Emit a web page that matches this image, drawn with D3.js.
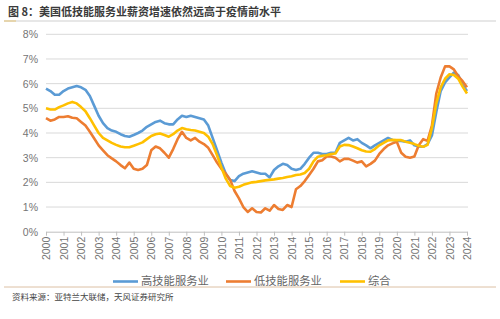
<!DOCTYPE html>
<meta charset="utf-8">
<style>
  body { margin: 0; background: #fff; }
  text { font-family: 'Noto Sans CJK SC', 'Noto Sans', sans-serif; }
</style>
<body>
<script src="https://cdn.jsdelivr.net/npm/d3@7"></script>
<script>
  var width = 500, height = 319;

  // quarterly readings, 2000Q1 .. 2024Q1
  var startYear = 2000, step = 0.25;
  var seriesNames = ["高技能服务业", "低技能服务业", "综合"];
  var colors = ["#5B9BD5", "#ED7D31", "#FFC000"];

  var highSkill = [5.80, 5.70, 5.55, 5.55, 5.70, 5.80, 5.85, 5.90, 5.85, 5.75, 5.50, 5.10,
    4.70, 4.40, 4.20, 4.10, 4.05, 3.95, 3.88, 3.85, 3.92, 4.00, 4.10, 4.25,
    4.35, 4.45, 4.50, 4.40, 4.35, 4.35, 4.55, 4.70, 4.65, 4.70, 4.65, 4.60,
    4.55, 4.30, 3.80, 3.30, 2.80, 2.35, 2.10, 2.05, 2.25, 2.35, 2.40, 2.45,
    2.40, 2.35, 2.35, 2.20, 2.50, 2.65, 2.75, 2.70, 2.55, 2.50, 2.55, 2.75,
    3.00, 3.20, 3.20, 3.15, 3.15, 3.20, 3.20, 3.60, 3.70, 3.80, 3.70, 3.75,
    3.60, 3.50, 3.38, 3.50, 3.60, 3.70, 3.80, 3.72, 3.68, 3.68, 3.65, 3.70,
    3.50, 3.45, 3.44, 3.55, 3.90, 4.85, 5.70, 6.05, 6.25, 6.45, 6.35, 5.95, 5.70];

  var lowSkill = [4.60, 4.50, 4.55, 4.65, 4.65, 4.68, 4.62, 4.60, 4.45, 4.30, 4.05, 3.78,
    3.50, 3.30, 3.10, 2.97, 2.85, 2.70, 2.57, 2.80, 2.55, 2.50, 2.55, 2.70,
    3.30, 3.45, 3.38, 3.20, 3.00, 3.35, 3.75, 4.05, 3.80, 3.70, 3.80, 3.65,
    3.55, 3.40, 3.10, 2.80, 2.55, 2.35, 2.10, 1.65, 1.35, 1.00, 0.80, 0.95,
    0.80, 0.78, 0.95, 0.85, 1.08, 0.92, 0.88, 1.08, 1.00, 1.72, 1.85, 2.05,
    2.30, 2.55, 2.85, 2.90, 3.05, 3.05, 3.00, 2.85, 2.95, 2.95, 2.88, 2.80,
    2.85, 2.65, 2.75, 2.88, 3.15, 3.35, 3.50, 3.58, 3.64, 3.20, 3.04, 3.00,
    3.05, 3.50, 3.75, 3.68, 4.30, 5.60, 6.25, 6.70, 6.70, 6.58, 6.30, 6.10, 5.85];

  var overall = [5.00, 4.95, 4.95, 5.05, 5.12, 5.20, 5.26, 5.20, 5.05, 4.88, 4.60, 4.30,
    4.00, 3.80, 3.70, 3.60, 3.52, 3.45, 3.42, 3.42, 3.48, 3.55, 3.62, 3.75,
    3.88, 3.95, 3.98, 3.92, 3.85, 3.95, 4.10, 4.20, 4.15, 4.12, 4.10, 4.05,
    4.00, 3.85, 3.55, 3.10, 2.60, 2.15, 1.85, 1.78, 1.82, 1.90, 1.95, 2.00,
    2.02, 2.05, 2.08, 2.10, 2.12, 2.15, 2.18, 2.22, 2.25, 2.30, 2.32, 2.38,
    2.55, 2.85, 3.04, 3.08, 3.10, 3.15, 3.17, 3.45, 3.52, 3.51, 3.45, 3.38,
    3.30, 3.25, 3.24, 3.35, 3.50, 3.60, 3.70, 3.72, 3.71, 3.71, 3.65, 3.60,
    3.55, 3.48, 3.44, 3.52, 4.20, 5.20, 5.85, 6.20, 6.38, 6.35, 6.20, 5.88, 5.60];

  var yTicks = [0, 1, 2, 3, 4, 5, 6, 7, 8];
  var xTicks = d3.range(2000, 2025);

  var svg = d3.select("body").append("svg")
    .attr("width", width)
    .attr("height", height);

  // title + rules
  svg.append("text")
    .attr("x", 8).attr("y", 16)
    .attr("font-size", 11).attr("font-weight", "bold").attr("fill", "#3a3a3a")
    .text("图 8：美国低技能服务业薪资增速依然远高于疫情前水平");
  svg.append("line").attr("x1", 4).attr("x2", 496).attr("y1", 21).attr("y2", 21)
    .attr("stroke", "#cfcfcf").attr("stroke-width", 1);
  svg.append("line").attr("x1", 4).attr("x2", 16).attr("y1", 21).attr("y2", 21)
    .attr("stroke", "#e6cf9a").attr("stroke-width", 1.5);
  svg.append("line").attr("x1", 4).attr("x2", 496).attr("y1", 287).attr("y2", 287)
    .attr("stroke", "#dcc0a4").attr("stroke-width", 1);
  svg.append("text")
    .attr("x", 12).attr("y", 300)
    .attr("font-size", 8.5).attr("fill", "#444")
    .text("资料来源：亚特兰大联储，天风证券研究所");

  var x = d3.scaleLinear().domain([2000, 2024]).range([46, 467]);
  var y = d3.scaleLinear().domain([0, 8]).range([231.7, 34.3]);

  // grid
  svg.append("g")
    .selectAll("line")
    .data(yTicks.slice(1))
    .enter().append("line")
    .attr("x1", 46).attr("x2", 468)
    .attr("y1", function(d) { return y(d) })
    .attr("y2", function(d) { return y(d) })
    .attr("stroke", "#d9d9d9").attr("stroke-width", 1);

  var yAxis = svg.append("g")
    .attr("transform", "translate(46,0)")
    .call(d3.axisLeft(y).tickValues(yTicks).tickSize(0).tickPadding(8)
      .tickFormat(function(d) { return d + "%" }));
  yAxis.select(".domain").remove();
  yAxis.selectAll("text").attr("font-size", 10.5).attr("fill", "#757575")
    .style("font-family", "'Liberation Sans', sans-serif");

  var xAxis = svg.append("g")
    .attr("transform", "translate(0," + y(0) + ")")
    .call(d3.axisBottom(x).tickValues(xTicks).tickSize(4).tickSizeOuter(0)
      .tickFormat(function(d) { return d }));
  xAxis.select(".domain").attr("stroke", "#bfbfbf");
  xAxis.selectAll(".tick line").attr("stroke", "#bfbfbf");
  xAxis.selectAll("text")
    .attr("font-size", 10.5).attr("fill", "#757575")
    .style("font-family", "'Liberation Sans', sans-serif")
    .attr("transform", "rotate(-90)")
    .attr("text-anchor", "end")
    .attr("x", -5).attr("y", 0).attr("dy", "0.35em");

  var line = d3.line()
    .x(function(d, i) { return x(startYear + i * step) })
    .y(function(d) { return y(d) });

  var data = [highSkill, lowSkill, overall];
  // draw order: blue, orange, yellow on top
  svg.append("g").selectAll("path")
    .data(data)
    .enter().append("path")
    .attr("d", line)
    .attr("fill", "none")
    .attr("stroke", function(d, i) { return colors[i] })
    .attr("stroke-width", 2.6)
    .attr("stroke-linejoin", "round");

  // legend
  var legX = [113, 226, 340];
  var leg = svg.append("g").selectAll("g")
    .data(seriesNames)
    .enter().append("g")
    .attr("transform", function(d, i) { return "translate(" + legX[i] + ",281.5)" });
  leg.append("line").attr("x1", 0).attr("x2", 25)
    .attr("stroke", function(d, i) { return colors[i] }).attr("stroke-width", 2.6);
  leg.append("text").attr("x", 28).attr("dy", "0.35em")
    .attr("font-size", 11.3).attr("fill", "#666")
    .text(function(d) { return d });
</script>
</body>
